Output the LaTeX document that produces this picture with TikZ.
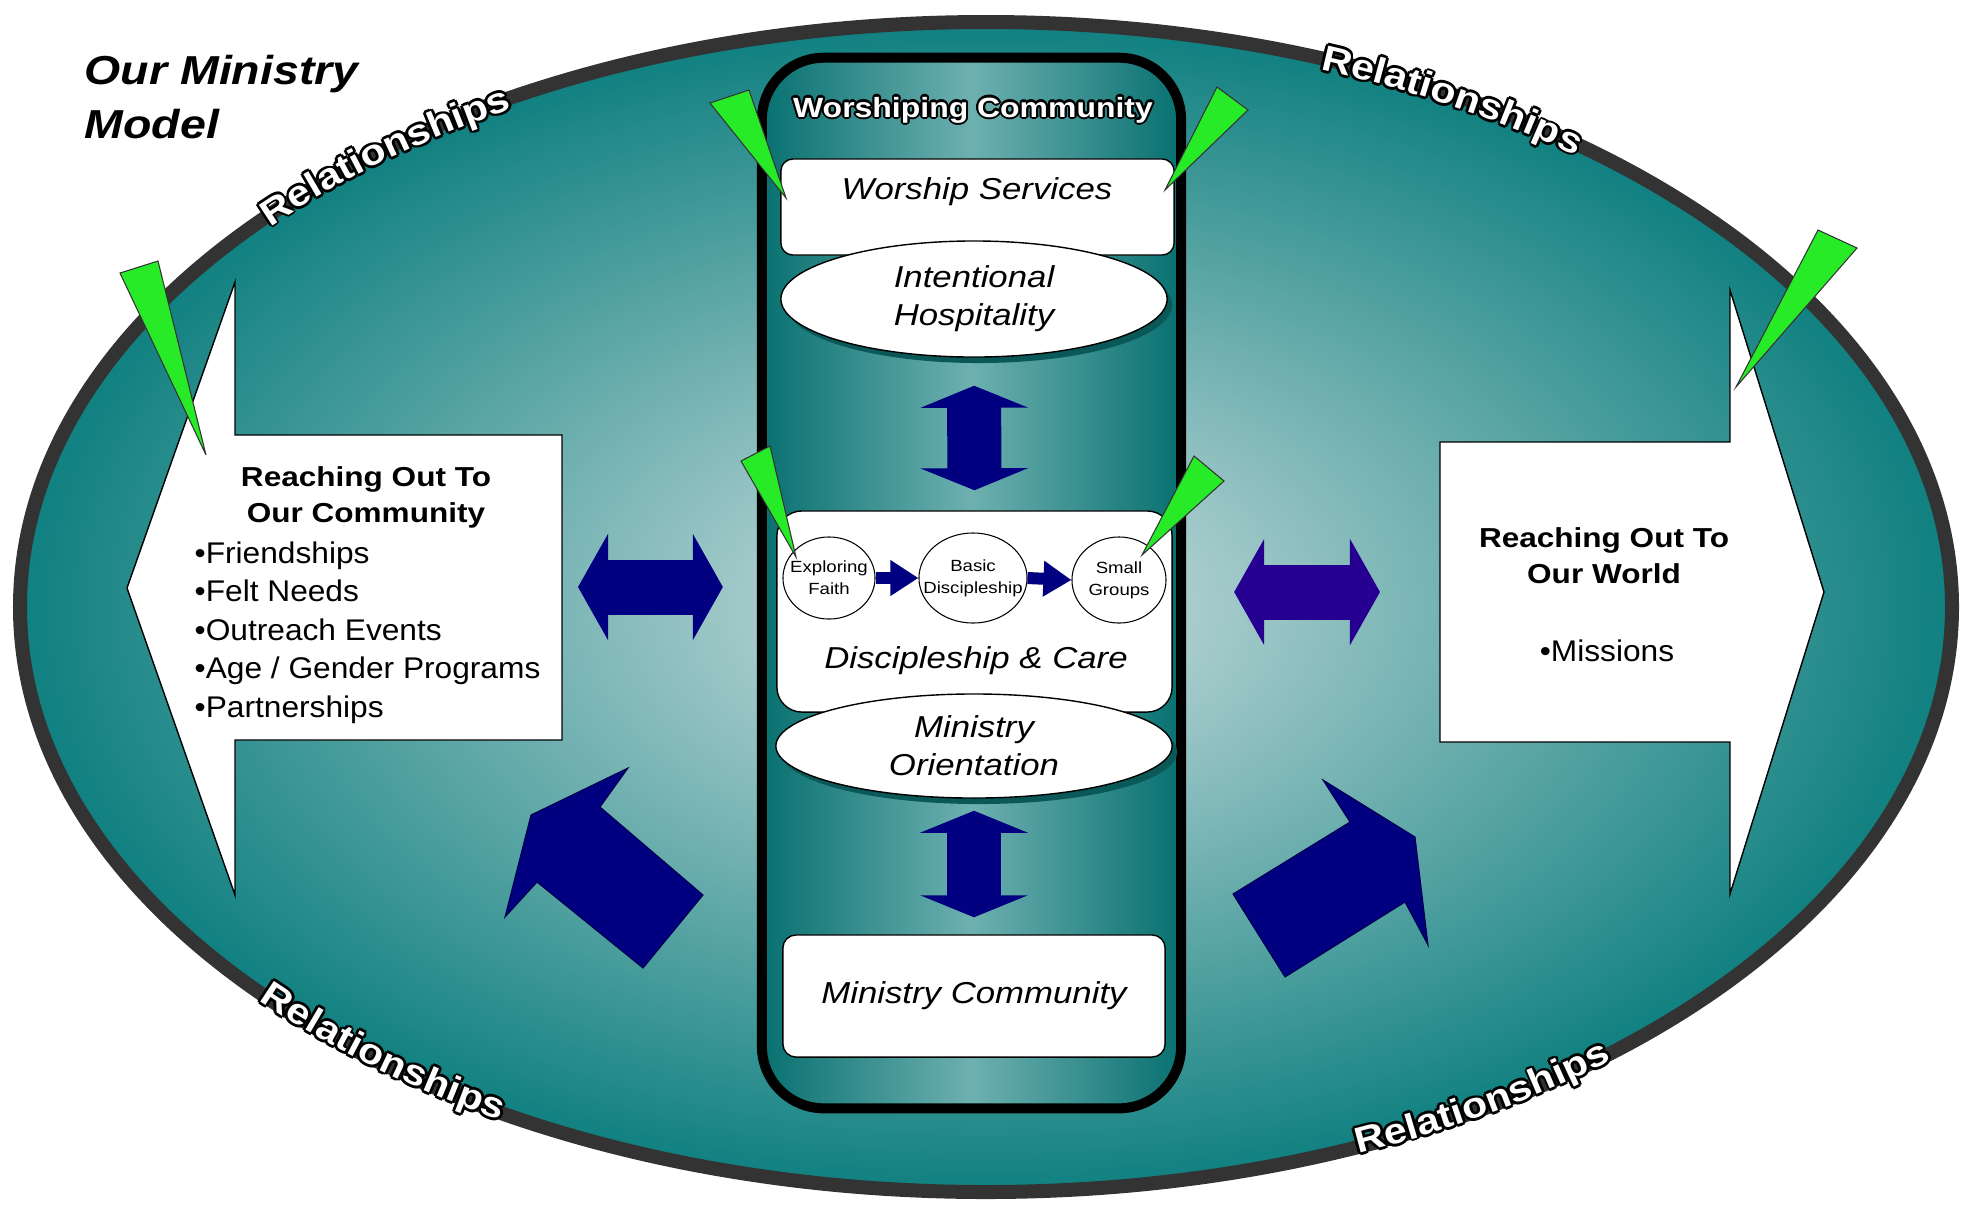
\documentclass[tikz,border=0pt]{standalone}
\usepackage{fontspec}
\setmainfont{Liberation Sans}[FakeStretch=1.15]
\newfontfamily\mmListFam{Liberation Sans}[FakeStretch=1.06]
\usepackage{contour}
\usetikzlibrary{shapes.geometric, arrows.meta, calc, decorations.text, shadows}

\definecolor{tealdark}{RGB}{16,128,128}
\definecolor{teallight}{RGB}{170,205,205}
\definecolor{bandgray}{RGB}{51,51,51}
\definecolor{coldark}{RGB}{8,112,112}
\definecolor{collight}{RGB}{110,176,176}
\definecolor{tealshadow}{RGB}{10,88,88}
\definecolor{navyblock}{RGB}{0,0,128}
\definecolor{indigoblock}{RGB}{38,0,145}
\definecolor{pingreen}{RGB}{40,235,40}

\pgfdeclareradialshading{bowl}{\pgfpoint{0bp}{0bp}}{color(0bp)=(teallight); color(5bp)=(teallight); color(25bp)=(tealdark); color(50bp)=(tealdark)}

\newcommand\mmTitle{\fontsize{11.5}{15.6}\selectfont\bfseries\itshape}
\newcommand\mmRel{\fontsize{10.2}{12}\selectfont\bfseries}
\newcommand\mmWc{\fontsize{7.9}{9}\selectfont\bfseries}
\newcommand\mmMid{\fontsize{8.6}{10.8}\selectfont\itshape}
\newcommand\mmTiny{\fontsize{4.6}{6.3}\selectfont}
\newcommand\mmHead{\fontsize{7.8}{10.2}\selectfont\bfseries}
\newcommand\mmList{\mmListFam\fontsize{8.5}{10.95}\selectfont}
\contourlength{0.6pt}

\begin{document}
\begin{tikzpicture}[x=0.01cm, y=-0.01cm,
    greenpin/.style={fill=pingreen, draw=black!80, line width=0.3pt},
    whitebox/.style={rectangle, draw=black, fill=white, line width=0.4pt, inner sep=0pt},
    whiteoval/.style={ellipse, draw=black, fill=white, line width=0.4pt, inner sep=0pt, align=center, font=\mmMid,
        drop shadow={shadow xshift=0.05cm, shadow yshift=-0.06cm, fill=tealshadow, opacity=1}},
    stepcirc/.style={ellipse, draw=black, fill=white, line width=0.3pt, inner sep=0pt},
    smallflow/.style={navyblock, line width=0.12cm, -{Triangle[length=0.28cm, width=0.34cm]}},
    vblock/.style={navyblock, line width=0.54cm, {Triangle[length=0.22cm, width=1.07cm]}-{Triangle[length=0.22cm, width=1.07cm]}},
    hblock/.style={line width=0.55cm, {Triangle[length=0.3cm, width=1.05cm]}-{Triangle[length=0.3cm, width=1.05cm]}},
    callout/.style={fill=white, draw=black, line width=0.4pt}]

    \useasboundingbox (0,0) rectangle (1969,1205);
    \fill[white] (0,0) rectangle (1969,1205);

    % Outer ring
    \shade[shading=bowl] (986,607) ellipse [x radius=966, y radius=585];
    \draw[bandgray, line width=0.14cm] (986,607) ellipse [x radius=966, y radius=585];

    % Title
    \node[anchor=north west, align=left, font=\mmTitle, inner sep=0pt] (title) at (84,54) {Our Ministry\\Model};

    % Central column
    \node[rectangle, rounded corners=0.62cm, draw=black, line width=0.1cm, left color=coldark, right color=coldark,
        middle color=collight, minimum width=4.19cm, minimum height=10.5cm] (column) at (971.5,583) {};
    \node[font=\mmWc, text=white, anchor=base] (wctitle) at (973,117) {\contour{black}{Worshiping Community}};

    \node[whitebox, rounded corners=0.12cm, minimum width=3.93cm, minimum height=0.96cm] (services) at (977.5,207) {};
    \node[font=\mmMid, anchor=base] (servicestxt) at (977,199) {Worship Services};
    \node[whiteoval, minimum width=3.86cm, minimum height=1.16cm] (hosp) at (974,299) {Intentional\\Hospitality};

    \node[whitebox, rounded corners=0.25cm, minimum width=3.95cm, minimum height=2.01cm] (disc) at (974.5,611.5) {};
    \node[font=\mmMid, anchor=base] (disctxt) at (976,668) {Discipleship \& Care};

    % Discipleship steps
    \node[stepcirc, minimum width=0.92cm, minimum height=0.82cm] (explore) at (829,578) {};
    \node[stepcirc, minimum width=1.08cm, minimum height=0.90cm] (basic) at (973,578) {};
    \node[stepcirc, minimum width=0.94cm, minimum height=0.86cm] (small) at (1119,580) {};
    \node[font=\mmTiny, align=center] (exploretxt) at (explore) {Exploring\\Faith};
    \node[font=\mmTiny, align=center] (basictxt) at (basic) {Basic\\Discipleship};
    \node[font=\mmTiny, align=center] (smalltxt) at (small) {Small\\Groups};
    \draw[smallflow] (explore.east) -- (basic.west);
    \draw[smallflow] (basic.east) -- (small.west);

    \node[whiteoval, minimum width=3.96cm, minimum height=1.04cm] (orient) at (974,746) {Ministry\\Orientation};
    \node[whitebox, rounded corners=0.13cm, minimum width=3.82cm, minimum height=1.22cm, font=\mmMid] (mincomm) at (974,996) {Ministry Community};

    % Up and down arrows
    \draw[vblock, shorten <=0.28cm, shorten >=0.2cm] (hosp.south) -- (disc.north);
    \draw[vblock, shorten <=0.12cm, shorten >=0.17cm] (orient.south) -- (mincomm.north);

    % Reaching out
    \draw[callout] (562,435) -- (235,435) -- (235,282) -- (127,588) -- (235,895) -- (235,740) -- (562,740) -- cycle;
    \draw[callout] (1440,442) -- (1730,442) -- (1730,290) -- (1824,592) -- (1730,894) -- (1730,742) -- (1440,742) -- cycle;
    \coordinate (commedge) at (562,587);
    \coordinate (worldedge) at (1440,592);

    \node[anchor=north, align=center, font=\mmHead, inner sep=0pt] (commhead) at (366,466) {Reaching Out To\\Our Community};
    \node[anchor=north west, align=left, font=\mmList, inner sep=0pt] (commlist) at (194,541)
        {•Friendships\\•Felt Needs\\•Outreach Events\\•Age / Gender Programs\\•Partnerships};
    \node[anchor=north, align=center, font=\mmHead, inner sep=0pt] (worldhead) at (1604,527) {Reaching Out To\\Our World};
    \node[anchor=base, font=\mmList, inner sep=0pt] (worldlist) at (1607,661) {•Missions};

    \draw[hblock, navyblock, shorten <=0.16cm, shorten >=0.34cm] (commedge) -- (column.west |- commedge);
    \draw[hblock, indigoblock, shorten <=0.48cm, shorten >=0.6cm] (column.east |- worldedge) -- (worldedge);

    % Diagonal arrows
    \filldraw[navyblock, draw=black!40!navyblock, line width=0.3pt]
        (531,815) -- (628,768) -- (600,807) -- (703,895) -- (643,968) -- (537,882) -- (505,917) -- cycle;
    \filldraw[navyblock, draw=black!40!navyblock, line width=0.3pt]
        (1233,894) -- (1350,822) -- (1323,780) -- (1415,837) -- (1428,945) -- (1405,902) -- (1285,977) -- cycle;

    % Green pointers
    \foreach \ax/\ay/\bx/\by/\cx/\cy in {120/273/158/261/206/455, 710/103/749/90/786/198,
        1217/87/1248/110/1165/190, 741/461/770/446/796/557,
        1194/456/1224/481/1142/555, 1818/230/1857/248/1736/387}
        \filldraw[greenpin] (\ax,\ay) -- (\bx,\by) -- (\cx,\cy) -- cycle;

    % Relationships along the ring
    \foreach \ta/\tb/\rx/\ry in {212/248/955/574, 282/318/955/574, 148/112/973/592, 76/40/973/592} {
        \foreach \dx/\dy in {1/0, -1/0, 0/1, 0/-1, 0.7/0.7, -0.7/0.7, 0.7/-0.7, -0.7/-0.7}
            \path[xshift=\dx*0.8pt, yshift=\dy*0.8pt, decorate,
                decoration={text along path, text={|\mmRel|Relationships}, text align=center, text color=black}]
                ([shift={(986,607)}]\ta:{\rx} and {\ry}) arc[start angle=\ta, end angle=\tb, x radius=\rx, y radius=\ry];
        \path[decorate, decoration={text along path, text={|\mmRel|Relationships}, text align=center, text color=white}]
            ([shift={(986,607)}]\ta:{\rx} and {\ry}) arc[start angle=\ta, end angle=\tb, x radius=\rx, y radius=\ry];
    }

\end{tikzpicture}
\end{document}
